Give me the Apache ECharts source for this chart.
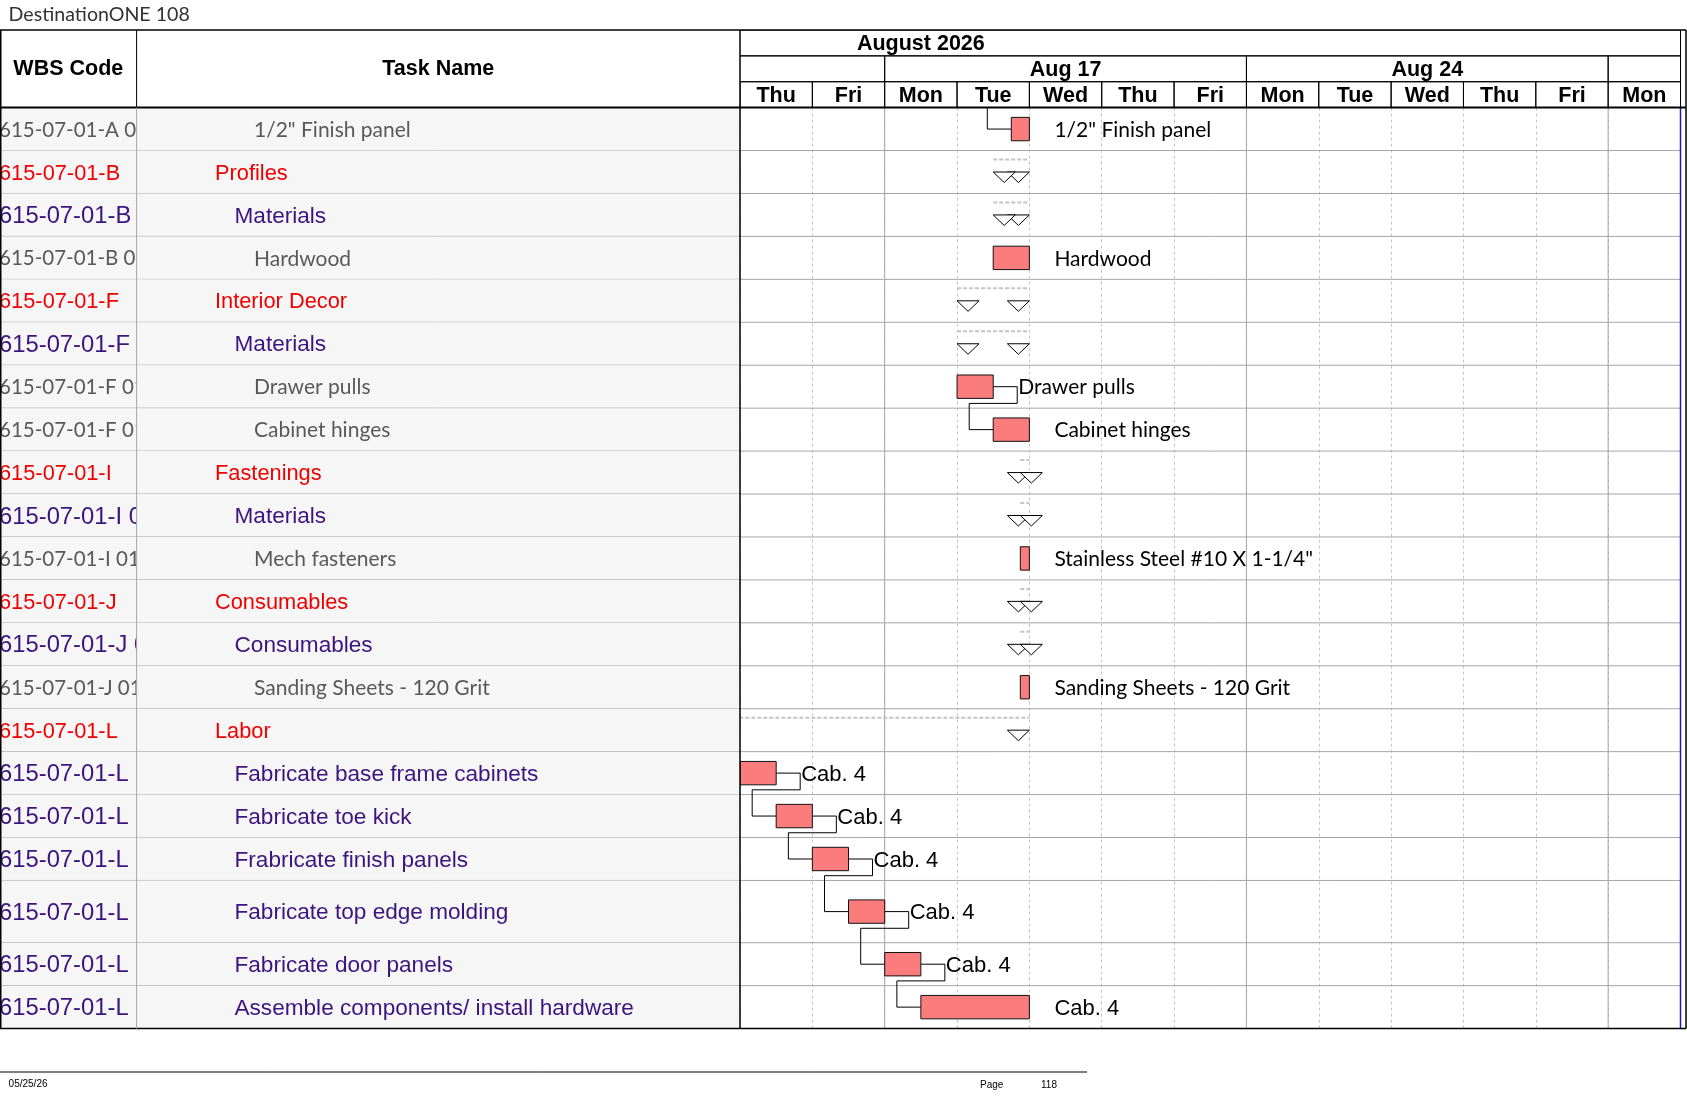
<!DOCTYPE html>
<html>
<head>
<meta charset="utf-8">
<title>DestinationONE 108</title>
<script src="https://cdn.jsdelivr.net/npm/echarts/dist/echarts.min.js"></script>
<style>
  html, body { margin: 0; padding: 0; background: #fff; }
  #chart { width: 1687px; height: 1097px; }
</style>
</head>
<body>
<div id="chart"></div>
<script>
// ---- data ----
const wbsCodes = [
  '615-07-01-A 01', '615-07-01-B', '615-07-01-B 01', '615-07-01-B 01 01',
  '615-07-01-F', '615-07-01-F 01', '615-07-01-F 01 01', '615-07-01-F 01 02',
  '615-07-01-I', '615-07-01-I 01', '615-07-01-I 01 01',
  '615-07-01-J', '615-07-01-J 01', '615-07-01-J 01 01',
  '615-07-01-L', '615-07-01-L', '615-07-01-L', '615-07-01-L',
  '615-07-01-L', '615-07-01-L', '615-07-01-L'
];
const taskNames = [
  '1/2" Finish panel', 'Profiles', 'Materials', 'Hardwood',
  'Interior Decor', 'Materials', 'Drawer pulls', 'Cabinet hinges',
  'Fastenings', 'Materials', 'Mech fasteners',
  'Consumables', 'Consumables', 'Sanding Sheets - 120 Grit',
  'Labor', 'Fabricate base frame cabinets', 'Fabricate toe kick', 'Frabricate finish panels',
  'Fabricate top edge molding', 'Fabricate door panels', 'Assemble components/ install hardware'
];
const levels = [3, 1, 2, 3, 1, 2, 3, 3, 1, 2, 3, 1, 2, 3, 1, 2, 2, 2, 2, 2, 2];
const isSummary = [false, true, true, false, true, true, false, false, true, true, false,
  true, true, false, true, false, false, false, false, false, false];
// working-day index, 0 = Thu Aug 13 2026
const startDay = [3.75, 3.5, 3.5, 3.5, 3, 3, 3, 3.5, 3.875, 3.875, 3.875, 3.875, 3.875, 3.875,
  -2, 0, 0.5, 1, 1.5, 2, 2.5];
const endDay = [4, 4, 4, 4, 4, 4, 3.5, 4, 4, 4, 4, 4, 4, 4,
  4, 0.5, 1, 1.5, 2, 2.5, 4];
const barLabels = ['1/2" Finish panel', '', '', 'Hardwood', '', '', 'Drawer pulls', 'Cabinet hinges',
  '', '', 'Stainless Steel #10 X 1-1/4"', '', '', 'Sanding Sheets - 120 Grit', '',
  'Cab. 4', 'Cab. 4', 'Cab. 4', 'Cab. 4', 'Cab. 4', 'Cab. 4'];
// predecessor -> successor (-1 = predecessor on previous page)
const links = [[-1, 0], [6, 7], [15, 16], [16, 17], [17, 18], [18, 19], [19, 20]];

const dayNames = ['Thu', 'Fri', 'Mon', 'Tue', 'Wed', 'Thu', 'Fri', 'Mon', 'Tue', 'Wed', 'Thu', 'Fri', 'Mon'];
const weekLabels = ['', 'Aug 17', 'Aug 24', ''];
const weekStart = [-3, 2, 7, 12];
const weekEnd = [2, 7, 12, 17];
const monthLabels = ['August 2026'];
const monthStart = [-8];
const monthEnd = [13];

// ---- layout ----
const TOP = 30, HEAD_BOTTOM = 107.6, BODY_BOTTOM = 1028.6;
const COL_WBS = 136.6, COL_GANTT = 740, GANTT_RIGHT = 1680.5, FRAME_RIGHT = 1686;
const TALL_ROW = { 18: 1.45 };
const BAR_H = 23.4, TRI_W = 22, TRI_H = 10.5, LINK_OFF = 24;
const INDENT0 = 78.4, INDENT_STEP = 19.5;

const FONT_SANS = '"Liberation Sans", Arial, sans-serif';
const FONT_CAL = 'Lato, "Open Sans", sans-serif';
const LEVEL_STYLE = {
  1: { color: '#f00000', wbsSize: 21.8, nameSize: 21.8, family: FONT_SANS, dy: 1.5, barFont: FONT_SANS, barSize: 22 },
  2: { color: '#3c1480', wbsSize: 23.8, nameSize: 22.6, family: FONT_SANS, dy: 1.5, barFont: FONT_SANS, barSize: 22 },
  3: { color: '#595959', wbsSize: 20.5, nameSize: 21, family: FONT_CAL, dy: 1, barFont: FONT_CAL, barSize: 21 }
};
const HEAD_FONT = 21.5;

const rowUnits = taskNames.map((n, i) => TALL_ROW[i] || 1);
const rowTop = [];
let acc = 0;
rowUnits.forEach(u => { rowTop.push(acc); acc += u; });
const TOTAL = acc;
const NDAYS = dayNames.length;
const weekLines = dayNames.map((d, i) => (d === 'Mon' ? i : null)).filter(v => v !== null);

const headerCells = [];
const headerText = [];
monthLabels.forEach((m, i) => { headerCells.push([monthStart[i], monthEnd[i], 0]); headerText.push(m); });
weekLabels.forEach((w, i) => { headerCells.push([weekStart[i], weekEnd[i], 1]); headerText.push(w); });
dayNames.forEach((d, i) => { headerCells.push([i, i + 1, 2]); headerText.push(d); });

function rowCenter(i) { return rowTop[i] + rowUnits[i] / 2; }

function tableCell(texts, isTask) {
  return function (params, api) {
    const i = params.dataIndex;
    const a = api.coord([0, rowTop[i]]);
    const b = api.coord([1, rowTop[i] + rowUnits[i]]);
    const st = LEVEL_STYLE[levels[i]];
    const x = isTask ? a[0] + INDENT0 + (levels[i] - 1) * INDENT_STEP : a[0] - 1;
    return {
      type: 'group',
      children: [
        { type: 'rect', shape: { x: a[0], y: a[1], width: b[0] - a[0], height: b[1] - a[1] }, style: { fill: '#f6f6f6' } },
        { type: 'line', shape: { x1: a[0], y1: b[1], x2: b[0], y2: b[1] }, style: { stroke: '#a6a6a6', lineWidth: 1 } },
        {
          type: 'text', x: x, y: (a[1] + b[1]) / 2 + st.dy,
          style: {
            text: texts[i], fill: st.color, fontSize: isTask ? st.nameSize : st.wbsSize,
            fontFamily: st.family, align: 'left', verticalAlign: 'middle'
          }
        }
      ]
    };
  };
}

function triangle(x, y) {
  return {
    type: 'polygon',
    shape: { points: [[x, y], [x + TRI_W, y], [x + TRI_W / 2, y + TRI_H]] },
    style: { fill: '#fff', stroke: '#000', lineWidth: 1 }
  };
}

const rowIdx = taskNames.map((n, i) => [0, rowCenter(i)]);

const option = {
  animation: false,
  backgroundColor: '#fff',
  grid: [
    { left: 0, top: HEAD_BOTTOM, width: COL_WBS, height: BODY_BOTTOM - HEAD_BOTTOM },
    { left: COL_WBS, top: HEAD_BOTTOM, width: COL_GANTT - COL_WBS, height: BODY_BOTTOM - HEAD_BOTTOM },
    { left: COL_GANTT, top: HEAD_BOTTOM, width: GANTT_RIGHT - COL_GANTT, height: BODY_BOTTOM - HEAD_BOTTOM },
    { left: COL_GANTT, top: TOP, width: GANTT_RIGHT - COL_GANTT, height: HEAD_BOTTOM - TOP }
  ],
  xAxis: [
    { gridIndex: 0, type: 'value', min: 0, max: 1, show: false },
    { gridIndex: 1, type: 'value', min: 0, max: 1, show: false },
    {
      gridIndex: 2, type: 'value', min: 0, max: NDAYS, interval: 1,
      axisLine: { show: false }, axisTick: { show: false }, axisLabel: { show: false },
      splitLine: { show: true, lineStyle: { color: '#c4c4c4', width: 1, type: [3, 3] } }
    },
    { gridIndex: 3, type: 'value', min: 0, max: NDAYS, show: false }
  ],
  yAxis: [
    { gridIndex: 0, type: 'value', min: 0, max: TOTAL, inverse: true, show: false },
    { gridIndex: 1, type: 'value', min: 0, max: TOTAL, inverse: true, show: false },
    { gridIndex: 2, type: 'value', min: 0, max: TOTAL, inverse: true, show: false, splitLine: { show: false } },
    { gridIndex: 3, type: 'value', min: 0, max: 3, inverse: true, show: false }
  ],
  series: [
    {
      type: 'custom', name: 'wbs', xAxisIndex: 0, yAxisIndex: 0, clip: true,
      data: rowIdx, renderItem: tableCell(wbsCodes, false)
    },
    {
      type: 'custom', name: 'task', xAxisIndex: 1, yAxisIndex: 1, clip: true,
      data: rowIdx, renderItem: tableCell(taskNames, true)
    },
    {
      type: 'custom', name: 'rowLines', xAxisIndex: 2, yAxisIndex: 2, clip: true,
      data: rowIdx,
      renderItem: function (params, api) {
        const i = params.dataIndex;
        const a = api.coord([0, rowTop[i] + rowUnits[i]]);
        const b = api.coord([NDAYS, rowTop[i] + rowUnits[i]]);
        return { type: 'line', shape: { x1: a[0], y1: a[1], x2: b[0], y2: b[1] }, style: { stroke: '#a6a6a6', lineWidth: 1 } };
      }
    },
    {
      type: 'custom', name: 'weeks', xAxisIndex: 2, yAxisIndex: 2, clip: true,
      data: weekLines.map(w => [w, 0]),
      renderItem: function (params, api) {
        const a = api.coord([api.value(0), 0]);
        const b = api.coord([api.value(0), TOTAL]);
        return { type: 'line', shape: { x1: a[0], y1: a[1], x2: b[0], y2: b[1] }, style: { stroke: '#a6a6a6', lineWidth: 1 } };
      }
    },
    {
      type: 'custom', name: 'edge', xAxisIndex: 2, yAxisIndex: 2, clip: false,
      data: [[NDAYS, 0]],
      renderItem: function (params, api) {
        const a = api.coord([api.value(0), 0]);
        const b = api.coord([api.value(0), TOTAL]);
        return { type: 'line', shape: { x1: a[0], y1: a[1], x2: b[0], y2: b[1] }, style: { stroke: '#1c1cb0', lineWidth: 1.5 } };
      }
    },
    {
      type: 'custom', name: 'links', xAxisIndex: 2, yAxisIndex: 2, clip: true, z: 3,
      data: links.map(l => [l[0], l[1]]),
      renderItem: function (params, api) {
        const from = api.value(0), to = api.value(1);
        const pB = api.coord([startDay[to], rowCenter(to)]);
        let pts;
        if (from < 0) {
          const topY = api.coord([0, rowTop[to]])[1];
          pts = [[pB[0] - LINK_OFF, topY], [pB[0] - LINK_OFF, pB[1]], [pB[0], pB[1]]];
        } else {
          const pA = api.coord([endDay[from], rowCenter(from)]);
          const yDrop = pA[1] + BAR_H / 2 + 5;
          pts = [[pA[0], pA[1]], [pA[0] + LINK_OFF, pA[1]], [pA[0] + LINK_OFF, yDrop],
            [pB[0] - LINK_OFF, yDrop], [pB[0] - LINK_OFF, pB[1]], [pB[0], pB[1]]];
        }
        return { type: 'polyline', shape: { points: pts }, style: { stroke: '#000', lineWidth: 1, fill: null } };
      }
    },
    {
      type: 'custom', name: 'bars', xAxisIndex: 2, yAxisIndex: 2, clip: true, z: 4,
      data: taskNames.map((n, i) => [startDay[i], endDay[i], rowCenter(i)]),
      renderItem: function (params, api) {
        const i = params.dataIndex;
        const ps = api.coord([api.value(0), api.value(2)]);
        const pe = api.coord([api.value(1), api.value(2)]);
        const yc = ps[1];
        const children = [];
        if (isSummary[i]) {
          children.push({
            type: 'line', shape: { x1: ps[0], y1: yc - 12.5, x2: pe[0], y2: yc - 12.5 },
            style: { stroke: '#c4c4c4', lineWidth: 2, lineDash: [4, 2] }
          });
          children.push(triangle(pe[0] - TRI_W, yc));
          children.push(triangle(ps[0], yc));
        } else {
          children.push({
            type: 'rect', shape: { x: ps[0], y: yc - BAR_H / 2, width: pe[0] - ps[0], height: BAR_H },
            style: { fill: '#fa7c7c', stroke: '#111', lineWidth: 1 }
          });
          const st = LEVEL_STYLE[levels[i]];
          if (barLabels[i]) {
            children.push({
              type: 'text', x: pe[0] + LINK_OFF + 1, y: yc + st.dy,
              style: { text: barLabels[i], fill: '#000', fontSize: st.barSize, fontFamily: st.barFont, align: 'left', verticalAlign: 'middle' }
            });
          }
        }
        return { type: 'group', children: children };
      }
    },
    {
      type: 'custom', name: 'header', xAxisIndex: 3, yAxisIndex: 3, clip: true,
      data: headerCells,
      renderItem: function (params, api) {
        const a = api.coord([api.value(0), api.value(2)]);
        const b = api.coord([api.value(1), api.value(2) + 1]);
        return {
          type: 'group',
          children: [
            { type: 'rect', shape: { x: a[0], y: a[1], width: b[0] - a[0], height: b[1] - a[1] }, style: { fill: null, stroke: '#000', lineWidth: 1 } },
            {
              type: 'text', x: (a[0] + b[0]) / 2, y: (a[1] + b[1]) / 2 + 1,
              style: { text: headerText[params.dataIndex], fill: '#000', fontSize: HEAD_FONT, fontWeight: 'bold', fontFamily: FONT_SANS, align: 'center', verticalAlign: 'middle' }
            }
          ]
        };
      }
    }
  ],
  graphic: [
    { type: 'text', x: 8.6, y: 15, z: 100, style: { text: 'DestinationONE 108', fill: '#333', fontSize: 19.6, fontFamily: FONT_CAL, verticalAlign: 'middle' } },
    { type: 'text', x: COL_WBS / 2, y: (TOP + HEAD_BOTTOM) / 2, z: 100, style: { text: 'WBS Code', fill: '#000', fontSize: HEAD_FONT, fontWeight: 'bold', fontFamily: FONT_SANS, align: 'center', verticalAlign: 'middle' } },
    { type: 'text', x: (COL_WBS + COL_GANTT) / 2, y: (TOP + HEAD_BOTTOM) / 2, z: 100, style: { text: 'Task Name', fill: '#000', fontSize: HEAD_FONT, fontWeight: 'bold', fontFamily: FONT_SANS, align: 'center', verticalAlign: 'middle' } },
    // frame
    { type: 'line', z: 100, shape: { x1: 0, y1: TOP, x2: FRAME_RIGHT, y2: TOP }, style: { stroke: '#000', lineWidth: 1.5 } },
    { type: 'line', z: 100, shape: { x1: 0, y1: HEAD_BOTTOM, x2: FRAME_RIGHT, y2: HEAD_BOTTOM }, style: { stroke: '#000', lineWidth: 2 } },
    { type: 'line', z: 100, shape: { x1: 0, y1: BODY_BOTTOM, x2: FRAME_RIGHT, y2: BODY_BOTTOM }, style: { stroke: '#000', lineWidth: 1.5 } },
    { type: 'line', z: 100, shape: { x1: 0.75, y1: TOP, x2: 0.75, y2: BODY_BOTTOM }, style: { stroke: '#000', lineWidth: 1.5 } },
    { type: 'line', z: 100, shape: { x1: COL_WBS, y1: TOP, x2: COL_WBS, y2: HEAD_BOTTOM }, style: { stroke: '#000', lineWidth: 1 } },
    { type: 'line', z: 100, shape: { x1: COL_WBS, y1: HEAD_BOTTOM, x2: COL_WBS, y2: BODY_BOTTOM }, style: { stroke: '#a6a6a6', lineWidth: 1 } },
    { type: 'line', z: 100, shape: { x1: COL_GANTT, y1: TOP, x2: COL_GANTT, y2: BODY_BOTTOM }, style: { stroke: '#000', lineWidth: 1.5 } },
    { type: 'line', z: 100, shape: { x1: GANTT_RIGHT, y1: TOP, x2: GANTT_RIGHT, y2: HEAD_BOTTOM }, style: { stroke: '#000', lineWidth: 1 } },
    { type: 'line', z: 100, shape: { x1: FRAME_RIGHT, y1: TOP, x2: FRAME_RIGHT, y2: BODY_BOTTOM }, style: { stroke: '#000', lineWidth: 1.5 } },
    // footer
    { type: 'line', z: 100, shape: { x1: 0, y1: 1072, x2: 1087, y2: 1072 }, style: { stroke: '#000', lineWidth: 1 } },
    { type: 'text', x: 8.6, y: 1084, z: 100, style: { text: '05/25/26', fill: '#000', fontSize: 10, fontFamily: FONT_SANS, verticalAlign: 'middle' } },
    { type: 'text', x: 980, y: 1085, z: 100, style: { text: 'Page', fill: '#000', fontSize: 10, fontFamily: FONT_SANS, verticalAlign: 'middle' } },
    { type: 'text', x: 1041, y: 1085, z: 100, style: { text: '118', fill: '#000', fontSize: 10, fontFamily: FONT_SANS, verticalAlign: 'middle' } }
  ]
};

const chart = echarts.init(document.getElementById('chart'), null, { renderer: 'canvas' });
chart.setOption(option);
</script>
</body>
</html>
